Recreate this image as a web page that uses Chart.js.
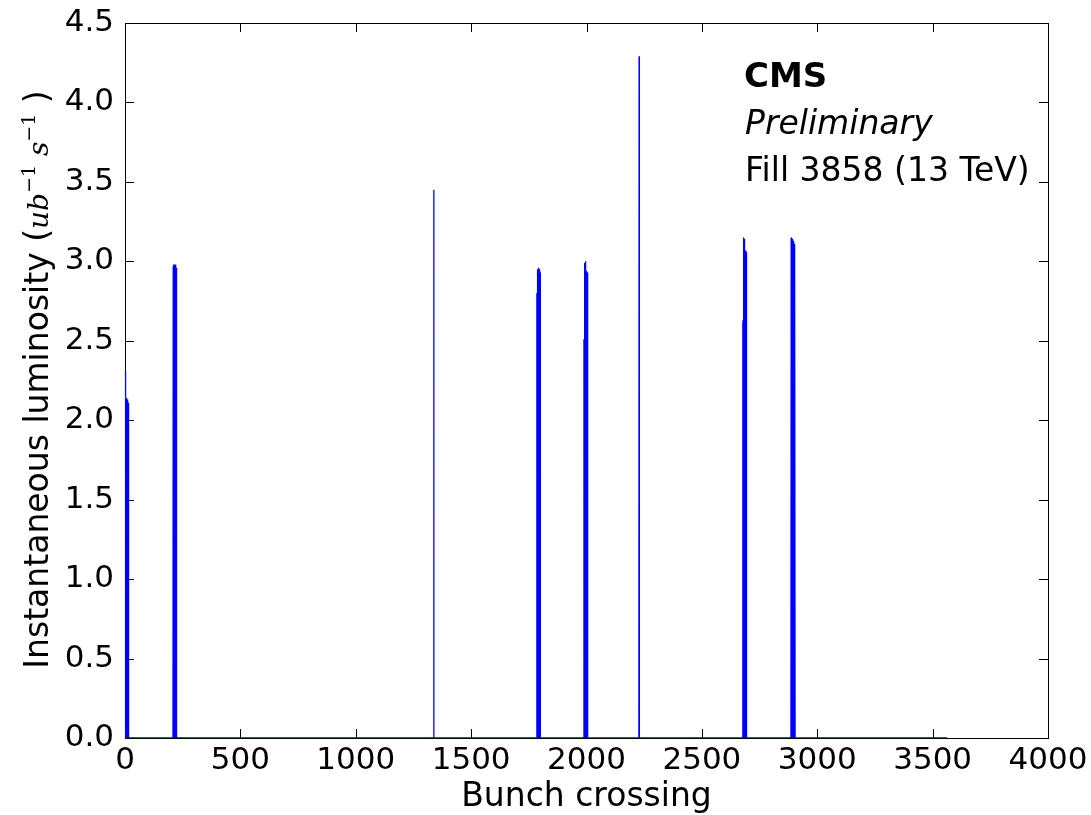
<!DOCTYPE html>
<html>
<head>
<meta charset="utf-8">
<script src="https://cdn.jsdelivr.net/npm/chart.js@4/dist/chart.umd.min.js"></script>
<style>
  html, body { margin: 0; padding: 0; background: #fff; }
  #wrap { width: 1091px; height: 815px; }
</style>
</head>
<body>
<div id="wrap"><canvas id="lumiChart"></canvas></div>
<script>
// bunch crossing numbers and luminosity per bunch (ub^-1 s^-1), one train per line
const bunchCrossing = [
  0,
  1, 2, 3, 4, 5, 6, 7, 8, 9, 10, 11, 12, 13, 14, 15, 16,
  208, 209, 210, 211, 212, 213, 214, 215, 216, 217, 218, 219, 220, 221, 222, 223, 224,
  1337, 1338, 1339,
  1784, 1785, 1786, 1787, 1788, 1789, 1790, 1791, 1792, 1793, 1794, 1795, 1796, 1797, 1798, 1799, 1800,
  1988, 1989, 1990, 1991, 1992, 1993, 1994, 1995, 1996, 1997, 1998, 1999, 2000, 2001, 2002, 2003, 2004, 2005, 2006,
  2227, 2228, 2229,
  2676, 2677, 2678, 2679, 2680, 2681, 2682, 2683, 2684, 2685, 2686, 2687, 2688, 2689, 2690, 2691, 2692, 2693, 2694,
  2886, 2887, 2888, 2889, 2890, 2891, 2892, 2893, 2894, 2895, 2896, 2897, 2898, 2899, 2900, 2901, 2902, 2903, 2904,
  3563
];
const luminosity = [
  0,
  2.31, 0, 2.30, 0, 2.14, 0, 2.13, 0, 2.12, 0, 2.13, 0, 2.12, 0, 2.11, 0,
  0, 2.97, 0, 2.98, 0, 2.98, 0, 2.97, 0, 2.98, 0, 2.97, 0, 2.98, 0, 2.96, 0,
  0, 3.45, 0,
  0, 2.80, 0, 2.92, 0, 2.95, 0, 2.96, 0, 2.96, 0, 2.95, 0, 2.94, 0, 2.93, 0,
  0, 2.51, 0, 2.52, 0, 2.99, 0, 3.00, 0, 2.95, 0, 2.94, 0, 2.93, 0, 2.93, 0, 2.93, 0,
  0, 4.29, 0,
  0, 2.62, 0, 2.63, 0, 3.15, 0, 3.14, 0, 3.08, 0, 3.07, 0, 3.07, 0, 3.06, 0, 3.06, 0,
  0, 3.15, 0, 3.14, 0, 3.14, 0, 3.13, 0, 3.13, 0, 3.12, 0, 3.12, 0, 3.11, 0, 3.10, 0,
  0
];
const xTicks = [0, 500, 1000, 1500, 2000, 2500, 3000, 3500, 4000];
const yTicks = [0, 0.5, 1, 1.5, 2, 2.5, 3, 3.5, 4, 4.5];

const xTitle = "Bunch crossing";
const yTitle = "Instantaneous luminosity ";
const annoLines = ["CMS", "Preliminary", "Fill 3858 (13 TeV)"];

const FONT = "'DejaVu Sans', sans-serif";

const points = bunchCrossing.map((b, i) => ({ x: b, y: luminosity[i] }));

// frame, inward ticks, titles and CMS labels (matplotlib classic look)
const decor = {
  id: "decor",
  beforeDatasetsDraw(chart) {
    const ctx = chart.ctx;
    const a = chart.chartArea;
    const xs = chart.scales.x, ys = chart.scales.y;
    const tl = 9;
    ctx.save();
    ctx.strokeStyle = "#000";
    ctx.lineWidth = 1;
    ctx.beginPath();
    xTicks.forEach(v => {
      const px = Math.round(xs.getPixelForValue(v)) + 0.5;
      ctx.moveTo(px, a.bottom); ctx.lineTo(px, a.bottom - tl);
      ctx.moveTo(px, a.top); ctx.lineTo(px, a.top + tl);
    });
    yTicks.forEach(v => {
      const py = Math.round(ys.getPixelForValue(v)) + 0.5;
      ctx.moveTo(a.left, py); ctx.lineTo(a.left + tl, py);
      ctx.moveTo(a.right, py); ctx.lineTo(a.right - tl, py);
    });
    ctx.stroke();
    ctx.strokeRect(Math.round(a.left) + 0.5, Math.round(a.top) + 0.5,
      Math.round(a.right - a.left), Math.round(a.bottom - a.top));
    ctx.restore();
  },
  afterDraw(chart) {
    const ctx = chart.ctx;
    const a = chart.chartArea;
    ctx.save();
    ctx.fillStyle = "#000";
    // x title
    ctx.font = "33px " + FONT;
    ctx.textAlign = "center";
    ctx.textBaseline = "alphabetic";
    ctx.fillText(xTitle, (a.left + a.right) / 2, 806);

    // y title with math part
    ctx.save();
    ctx.translate(48, 0);
    ctx.rotate(-Math.PI / 2);
    const parts = [
      { t: yTitle + "(", f: "33px " + FONT, dy: 0 },
      { t: "ub", f: "italic 28px 'DejaVu Serif', serif", dy: 0 },
      { t: "\u22121", f: "19px 'DejaVu Serif', serif", dy: -13 },
      { t: " s", f: "italic 28px 'DejaVu Serif', serif", dy: 0 },
      { t: "\u22121", f: "19px 'DejaVu Serif', serif", dy: -13 },
      { t: " )", f: "33px " + FONT, dy: 0 }
    ];
    let total = 0;
    parts.forEach(p => { ctx.font = p.f; p.w = ctx.measureText(p.t).width; total += p.w; });
    let cx = -((a.top + a.bottom) / 2) - total / 2 + 1;
    ctx.textAlign = "left";
    parts.forEach(p => {
      ctx.font = p.f;
      ctx.fillText(p.t, cx, p.dy);
      cx += p.w;
    });
    ctx.restore();

    // CMS labels
    ctx.textAlign = "left";
    ctx.font = "bold 34px " + FONT;
    ctx.fillText(annoLines[0], 744, 87);
    ctx.font = "italic 33px " + FONT;
    ctx.fillText(annoLines[1], 745, 134);
    ctx.font = "33px " + FONT;
    ctx.fillText(annoLines[2], 745, 181);
    ctx.restore();
  }
};

new Chart(document.getElementById("lumiChart"), {
  type: "scatter",
  data: {
    datasets: [{
      data: points,
      showLine: true,
      borderColor: "#0000ff",
      backgroundColor: "#0000ff",
      borderWidth: 1.3,
      pointRadius: 0,
      tension: 0,
      clip: { left: 2, right: 2, top: 2, bottom: 0 }
    }]
  },
  options: {
    responsive: true,
    maintainAspectRatio: false,
    animation: false,
    events: [],
    layout: { padding: { top: 23, right: 43, left: 0, bottom: 0 } },
    plugins: { legend: { display: false }, tooltip: { enabled: false } },
    scales: {
      x: {
        type: "linear",
        min: 0, max: 4000,
        afterFit(s) { s.height = 77; s.paddingLeft = 0; s.paddingRight = 0; },
        afterBuildTicks(s) { s.ticks = xTicks.map(v => ({ value: v })); },
        grid: { display: false, drawTicks: false },
        border: { display: false },
        ticks: {
          color: "#000", font: { family: FONT, size: 31 }, padding: 4, maxRotation: 0,
          callback: v => String(v)
        }
      },
      y: {
        min: 0, max: 4.5,
        afterFit(s) { s.width = 125; s.paddingTop = 0; s.paddingBottom = 0; },
        afterBuildTicks(s) { s.ticks = yTicks.map(v => ({ value: v })); },
        grid: { display: false, drawTicks: false },
        border: { display: false },
        ticks: {
          color: "#000", font: { family: FONT, size: 31 }, padding: 11,
          callback: v => v.toFixed(1)
        }
      }
    }
  },
  plugins: [decor]
});
</script>
</body>
</html>
